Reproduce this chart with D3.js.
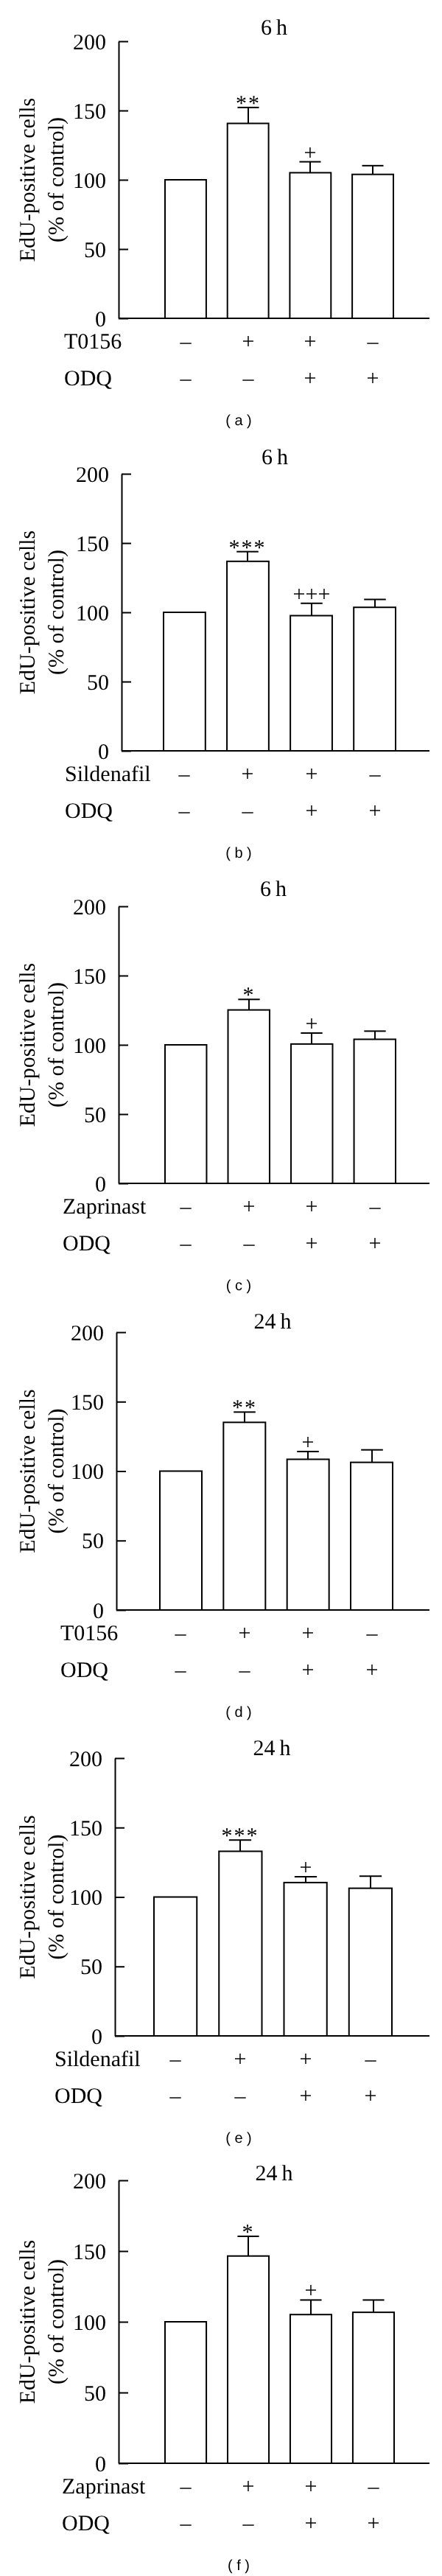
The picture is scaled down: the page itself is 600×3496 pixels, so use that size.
<!DOCTYPE html>
<html>
<head>
<meta charset="utf-8">
<script src="https://cdn.jsdelivr.net/npm/d3@7"></script>
<style>
  body { margin: 0; background: #fff; }
  svg { display: block; will-change: transform; }
  text { text-rendering: geometricPrecision; }
</style>
</head>
<body>
<svg width="600" height="3496"></svg>
<script>
// chart data, one entry per panel (a)..(f)
let panelIds = ['a', 'b', 'c', 'd', 'e', 'f'];
let timeLabels = ['6\u2009h', '6\u2009h', '6\u2009h', '24\u2009h', '24\u2009h', '24\u2009h'];
let drugNames = ['T0156', 'Sildenafil', 'Zaprinast', 'T0156', 'Sildenafil', 'Zaprinast'];
let drugSigns = ['\u2013', '+', '+', '\u2013'];
let odqSigns = ['\u2013', '\u2013', '+', '+'];
let yTicks = [0, 50, 100, 150, 200];

let means = [
    [100, 140.7, 105.1, 103.9],
    [100, 136.8, 97.6, 103.6],
    [100, 125.2, 100.6, 104.0],
    [100, 135.1, 108.5, 106.3],
    [100, 132.9, 110.4, 106.3],
    [100, 146.5, 105.1, 106.7]
];
let errors = [
    [0, 11.5, 7.9, 6.3],
    [0, 7.0, 8.9, 5.7],
    [0, 7.6, 7.9, 5.9],
    [0, 7.4, 5.6, 9.0],
    [0, 8.1, 4.2, 8.7],
    [0, 13.9, 10.3, 8.7]
];
let marks = [
    ['', '**', '+', ''],
    ['', '***', '+++', ''],
    ['', '*', '+', ''],
    ['', '**', '+', ''],
    ['', '***', '+', ''],
    ['', '*', '+', '']
];

// layout of each panel on the page
let y200 = [56, 643, 1230, 1808, 2386, 2959];
let y0 = [432, 1019, 1606, 2185, 2763, 3343];
let axisX = [161, 165, 161, 158, 156, 161];
let barLeft = [224, 222, 224, 217, 209, 224];
let barRight = [534, 537, 537, 533, 532, 535];
let titleX = [372, 373, 371, 370, 369, 372];
let titleDy = [-9, -13, -14, -5, -4, 0];
let rowLabelX = [87, 88, 85, 82, 74, 84];
let axisEnd = 583;

let serif = '"Liberation Serif", "Times New Roman", serif';
let fs = 30;

let svg = d3.select('svg');
svg.append('rect').attr('width', 600).attr('height', 3496).attr('fill', '#fff');

/**
 * draws one panel of the figure
 *
 * @param {Integer} p panel index
 */
let drawPanel = (p) => {
    let g = svg.append('g').attr('class', 'panel-' + panelIds[p]).attr('fill', '#000');
    let y = d3.scaleLinear().domain([0, 200]).range([y0[p], y200[p]]);
    let x = d3.scaleBand().domain(d3.range(4))
                    .range([barLeft[p], barRight[p]])
                    .paddingInner(0.34)
                    .paddingOuter(0);
    let cx = i => Math.round(x(i) + x.bandwidth() / 2);

    // y axis, ticks pointing into the plot
    let ax = g.append('g')
                    .attr('transform', `translate(${axisX[p]},0)`)
                    .call(d3.axisLeft(y).tickValues(yTicks).tickSizeInner(-13).tickSizeOuter(0).tickPadding(17));
    ax.select('.domain').attr('stroke-width', 2);
    ax.selectAll('.tick line').attr('stroke-width', 2);
    ax.selectAll('.tick text')
                    .attr('font-family', serif)
                    .attr('font-size', fs)
                    .attr('fill', '#000')
                    .attr('dy', '0.34em');

    // baseline
    g.append('line')
                    .attr('x1', axisX[p]).attr('x2', axisEnd)
                    .attr('y1', y(0)).attr('y2', y(0))
                    .attr('stroke', '#000').attr('stroke-width', 2);

    let rows = means[p].map((m, i) => ({ i: i, m: m, e: errors[p][i], mark: marks[p][i] }));

    // error bars (upper half only)
    let withErr = rows.filter(d => d.e > 0);
    g.selectAll('.err').data(withErr).enter().append('line')
                    .attr('x1', d => cx(d.i))
                    .attr('x2', d => cx(d.i))
                    .attr('y1', d => y(d.m))
                    .attr('y2', d => y(d.m + d.e))
                    .attr('stroke', '#000').attr('stroke-width', 2);
    g.selectAll('.cap').data(withErr).enter().append('line')
                    .attr('x1', d => cx(d.i) - x.bandwidth() * 0.26)
                    .attr('x2', d => cx(d.i) + x.bandwidth() * 0.26)
                    .attr('y1', d => y(d.m + d.e))
                    .attr('y2', d => y(d.m + d.e))
                    .attr('stroke', '#000').attr('stroke-width', 2);

    // bars
    g.selectAll('.bar').data(rows).enter().append('rect')
                    .attr('x', d => x(d.i))
                    .attr('y', d => y(d.m))
                    .attr('width', x.bandwidth())
                    .attr('height', d => y(0) - y(d.m))
                    .attr('fill', '#fff')
                    .attr('stroke', '#000')
                    .attr('stroke-width', 2);

    // significance marks
    g.selectAll('.mark').data(rows.filter(d => d.mark)).enter().append('text')
                    .attr('x', d => cx(d.i))
                    .attr('y', d => Math.round(y(d.m + d.e)) + (d.mark[0] === '*' ? 4 : -3))
                    .attr('text-anchor', 'middle')
                    .attr('fill', '#000')
                    .attr('font-family', serif)
                    .attr('font-size', fs)
                    .style('letter-spacing', d => d.mark[0] === '*' ? '2px' : 'normal')
                    .text(d => d.mark);

    // title
    g.append('text')
                    .attr('x', titleX[p]).attr('y', y200[p] + titleDy[p])
                    .attr('text-anchor', 'middle')
                    .attr('fill', '#000')
                    .attr('font-family', serif).attr('font-size', fs)
                    .text(timeLabels[p]);

    // y label, two lines
    let midY = (y(0) + y(200)) / 2;
    let yl = g.append('text')
                    .attr('transform', `translate(47,${midY}) rotate(-90)`)
                    .attr('text-anchor', 'middle')
                    .attr('fill', '#000')
                    .attr('font-family', serif).attr('font-size', fs);
    yl.append('tspan').attr('x', 0).attr('y', 0).text('EdU-positive cells');
    yl.append('tspan').attr('x', 0).attr('y', 39).text('(% of control)');

    // treatment rows
    let rowY = [y(0) + 41, y(0) + 91];
    let rowNames = [drugNames[p], 'ODQ'];
    let rowSigns = [drugSigns, odqSigns];
    rowNames.forEach((name, r) => {
        g.append('text')
                    .attr('x', rowLabelX[p]).attr('y', rowY[r])
                    .attr('fill', '#000')
                    .attr('font-family', serif).attr('font-size', fs)
                    .text(name);
        g.selectAll('.sign' + r).data(rowSigns[r]).enter().append('text')
                    .attr('x', (d, i) => cx(i))
                    .attr('y', rowY[r])
                    .attr('text-anchor', 'middle')
                    .attr('fill', '#000')
                    .attr('font-family', serif).attr('font-size', fs)
                    .text(d => d);
    });

    // panel letter
    g.append('text')
                    .attr('x', 324).attr('y', y(0) + 145)
                    .attr('text-anchor', 'middle')
                    .attr('fill', '#000')
                    .attr('font-family', '"Liberation Sans", Arial, sans-serif')
                    .attr('font-size', 20)
                    .style('white-space', 'pre')
                    .text(`( ${panelIds[p]} )`);
};

panelIds.forEach((id, p) => drawPanel(p));
</script>
</body>
</html>
